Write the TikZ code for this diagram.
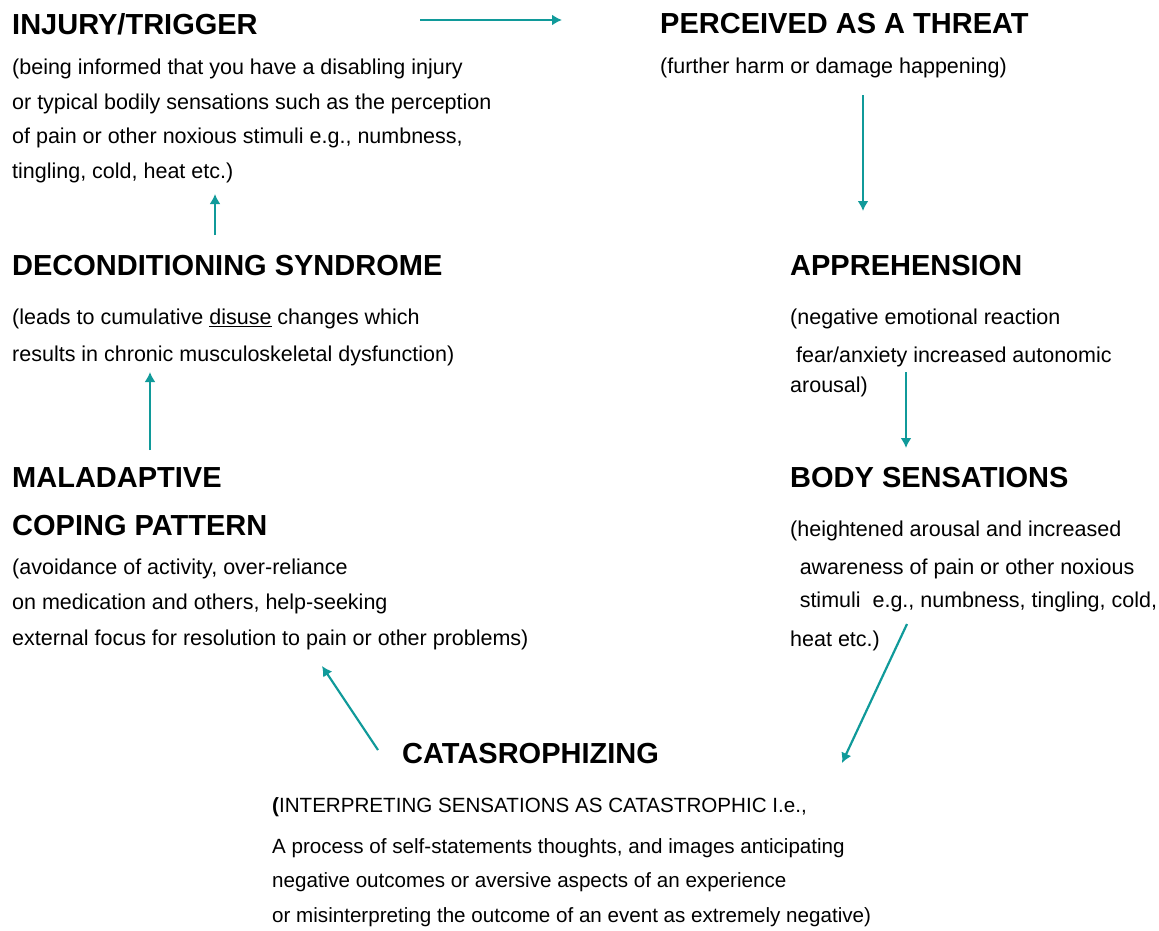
\documentclass[tikz,border=0pt]{standalone}
\usepackage{fontspec}
\setmainfont{Liberation Sans}
\usetikzlibrary{calc,shapes,arrows,arrows.meta}
\definecolor{linkcol}{RGB}{16,154,154}

\tikzset{
  head/.style={anchor=west, inner sep=0pt, font=\fontsize{29}{32}\selectfont\bfseries},
  body/.style={anchor=north west, inner sep=0pt, align=left, font=\fontsize{21.5}{34.5}\selectfont},
  link/.style={-{Latex[length=10pt,width=11pt]}, color=linkcol, line width=2.2pt}
}

\begin{document}
\begin{tikzpicture}[x=1pt,y=-1pt]
        \useasboundingbox (0,0) rectangle (1159,930);

        % left column
        \node[head] (injury) at (12,24) {INJURY/TRIGGER};
        \node[body] (injurytxt) at (12,59) {(being informed that you have a disabling injury\\
            or typical bodily sensations such as the perception\\
            of pain or other noxious stimuli e.g., numbness,\\
            tingling, cold, heat etc.)};

        \node[head] (decond) at (12,266) {DECONDITIONING SYNDROME};
        \node[body] (decondtxt) at (12,309) {(leads to cumulative \underline{disuse} changes which\\[2pt]
            results in chronic musculoskeletal dysfunction)};

        \node[head] (malad) at (12,478) {MALADAPTIVE};
        \node[head] (coping) at (12,526) {COPING PATTERN};
        \node[body] (copingtxt) at (12,559) {(avoidance of activity, over-reliance\\
            on medication and others, help-seeking\\[2pt]
            external focus for resolution to pain or other problems)};

        % right column
        \node[head] (threat) at (660,24) {PERCEIVED AS A THREAT};
        \node[body] (threattxt) at (660,58) {(further harm or damage happening)};

        \node[head] (appre) at (790,266) {APPREHENSION};
        \node[body] (appretxt) at (790,309) {(negative emotional reaction\\[3.5pt]
            \ fear/anxiety increased autonomic\\[-4.5pt]
            arousal)};

        \node[head] (bodysens) at (790,478) {BODY SENSATIONS};
        \node[body] (bodytxt) at (790,521) {(heightened arousal and increased\\[3.5pt]
            \ \,awareness of pain or other noxious\\[-1.5pt]
            \ \,stimuli\ \ e.g., numbness, tingling, cold,\\[4.5pt]
            heat etc.)};

        % bottom
        \node[head] (catas) at (402,754) {CATASROPHIZING};
        \node[body, font=\fontsize{20.6}{34.5}\selectfont] (catastxt) at (272,797) {\textbf{(}INTERPRETING SENSATIONS AS CATASTROPHIC I.e.,\\[6.5pt]
            A process of self-statements thoughts, and images anticipating\\
            negative outcomes or aversive aspects of an experience\\
            or misinterpreting the outcome of an event as extremely negative)};

        % arrow ends
        \coordinate (trig-out) at (420,20);
        \coordinate (threat-in) at (562,20);
        \coordinate (threat-out) at (863,95);
        \coordinate (appre-in) at (863,211);
        \coordinate (appre-out) at (906,372);
        \coordinate (body-in) at (906,448);
        \coordinate (body-out) at (907,624);
        \coordinate (catas-in) at (842,763);
        \coordinate (catas-out) at (378,750);
        \coordinate (coping-in) at (322,666);
        \coordinate (malad-out) at (150,450);
        \coordinate (decond-in) at (150,372);
        \coordinate (decond-out) at (215,235);
        \coordinate (trig-in) at (215,194);

        \draw[link] (trig-out) -- (threat-in);
        \draw[link] (threat-out) -- (appre-in);
        \draw[link] (appre-out) -- (body-in);
        \draw[link] (body-out) -- (catas-in);
        \draw[link] (catas-out) -- (coping-in);
        \draw[link] (malad-out) -- (decond-in);
        \draw[link] (decond-out) -- (trig-in);
    \end{tikzpicture}
\end{document}
